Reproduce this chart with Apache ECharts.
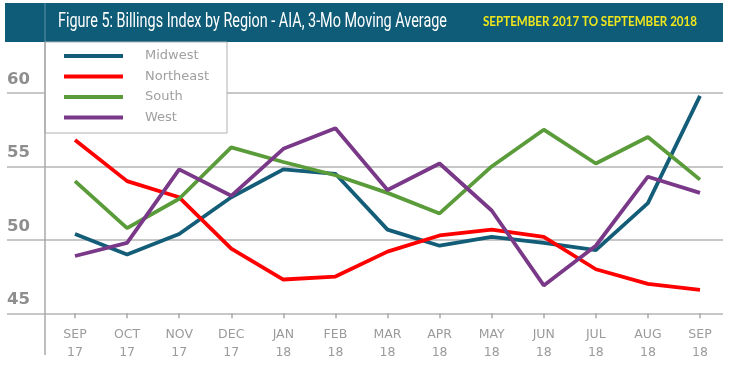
<!DOCTYPE html>
<html>
<head>
<meta charset="utf-8">
<script src="https://cdn.jsdelivr.net/npm/echarts@6/dist/echarts.min.js"></script>
<style>
html,body{margin:0;padding:0;background:#fff;}
#chart{width:730px;height:368px;}
</style>
</head>
<body>
<div id="chart"></div>
<script>
var months = ['SEP','OCT','NOV','DEC','JAN','FEB','MAR','APR','MAY','JUN','JUL','AUG','SEP'];
var years  = ['17','17','17','17','18','18','18','18','18','18','18','18','18'];
var midwest   = [50.4, 49.0, 50.4, 52.9, 54.8, 54.5, 50.7, 49.6, 50.2, 49.8, 49.3, 52.5, 59.8];
var northeast = [56.8, 54.0, 52.9, 49.4, 47.3, 47.5, 49.2, 50.3, 50.7, 50.2, 48.0, 47.0, 46.6];
var south     = [54.0, 50.8, 52.8, 56.3, 55.3, 54.4, 53.2, 51.8, 55.0, 57.5, 55.2, 57.0, 54.1];
var west      = [48.9, 49.8, 54.8, 53.0, 56.2, 57.6, 53.4, 55.2, 52.0, 46.9, 49.6, 54.3, 53.2];
var yTicks = [45, 50, 55, 60];
var titleText = 'Figure 5: Billings Index by Region - AIA, 3-Mo Moving Average';
var subText = 'SEPTEMBER 2017 TO SEPTEMBER 2018';

var categories = months.map(function(m, i){ return m + '\n' + years[i]; });

function fitScale(text, font, target){
  var c = document.createElement('canvas').getContext('2d');
  c.font = font;
  var w = c.measureText(text).width;
  return w > 0 ? target / w : 1;
}
var titleFont = "21px Roboto, 'DejaVu Sans', sans-serif";
var subFont = "bold 13px Lato, 'DejaVu Sans', sans-serif";
var titleScale = fitScale(titleText, titleFont, 389);
var subScale = fitScale(subText, subFont, 214);

var colors = ['#135d78', '#ff0000', '#5a9b3a', '#7a3889'];
var chart = echarts.init(document.getElementById('chart'), null, {renderer:'canvas'});

function lineSeries(name, data, color){
  return {
    name: name, type: 'line', data: data, xAxisIndex: 1, yAxisIndex: 1,
    symbol: 'none', smooth: false, z: 4,
    lineStyle: {color: color, width: 3.8},
    itemStyle: {color: color}
  };
}

chart.setOption({
  animation: false,
  color: colors,
  grid: [
    {left: 7, right: 7, top: 93, bottom: 54.7},
    {left: 75, right: 30, top: 93, bottom: 54.7}
  ],
  xAxis: [
    {gridIndex: 0, type: 'category', data: categories, show: false},
    {gridIndex: 1, type: 'category', data: categories, boundaryGap: false,
     axisLine: {show: false},
     axisTick: {show: true, alignWithLabel: true, length: 5, lineStyle: {color: '#a8a8a8', width: 1.5}},
     axisLabel: {color: '#9b9b9b', fontFamily: 'DejaVu Sans', fontSize: 12.5, lineHeight: 18, margin: 12, interval: 0}
    }
  ],
  yAxis: [
    {gridIndex: 0, type: 'value', min: 45, max: 60, interval: 5,
     axisLine: {show: false}, axisTick: {show: false},
     splitLine: {show: true, lineStyle: {color: '#b5b5b5', width: 1.5}},
     axisLabel: {inside: true, margin: 0, verticalAlign: 'bottom', padding: [0,0,5,0],
       color: '#8e8e8e', fontFamily: 'DejaVu Sans', fontWeight: 'bold', fontSize: 16.5}
    },
    {gridIndex: 1, type: 'value', min: 45, max: 60, interval: 5, show: false}
  ],
  legend: {
    orient: 'vertical', left: 59, top: 43.5, z: 10,
    itemWidth: 59, itemHeight: 4, itemGap: 5.5, icon: 'rect',
    textStyle: {color: '#a0a0a0', fontFamily: 'DejaVu Sans', fontSize: 13, lineHeight: 15, padding: [0,0,0,17]},
    data: ['Midwest','Northeast','South','West']
  },
  graphic: [
    {type: 'rect', z: 1, shape: {x: 5, y: 3, width: 718, height: 39}, style: {fill: '#0f5c78'}},
    {type: 'line', z: 2, shape: {x1: 45, y1: 3, x2: 45, y2: 42}, style: {stroke: 'rgba(255,255,255,0.22)', lineWidth: 1.5}},
    {type: 'rect', z: 3, shape: {x: 45, y: 42, width: 182, height: 91}, style: {fill: '#ffffff', stroke: '#b0b0b0', lineWidth: 1}},
    {type: 'line', z: 3, shape: {x1: 45, y1: 42, x2: 45, y2: 355}, style: {stroke: '#a8a8a8', lineWidth: 1.5}},
    {type: 'text', z: 5, x: 58, y: 22, scaleX: titleScale,
     style: {text: titleText, fill: '#ffffff', font: titleFont, textVerticalAlign: 'middle', verticalAlign: 'middle'}},
    {type: 'text', z: 5, x: 483, y: 22, scaleX: subScale,
     style: {text: subText, fill: '#f1e61c', font: subFont, textVerticalAlign: 'middle', verticalAlign: 'middle'}}
  ],
  series: [
    lineSeries('Midwest', midwest, colors[0]),
    lineSeries('Northeast', northeast, colors[1]),
    lineSeries('South', south, colors[2]),
    lineSeries('West', west, colors[3])
  ]
});
</script>
</body>
</html>
